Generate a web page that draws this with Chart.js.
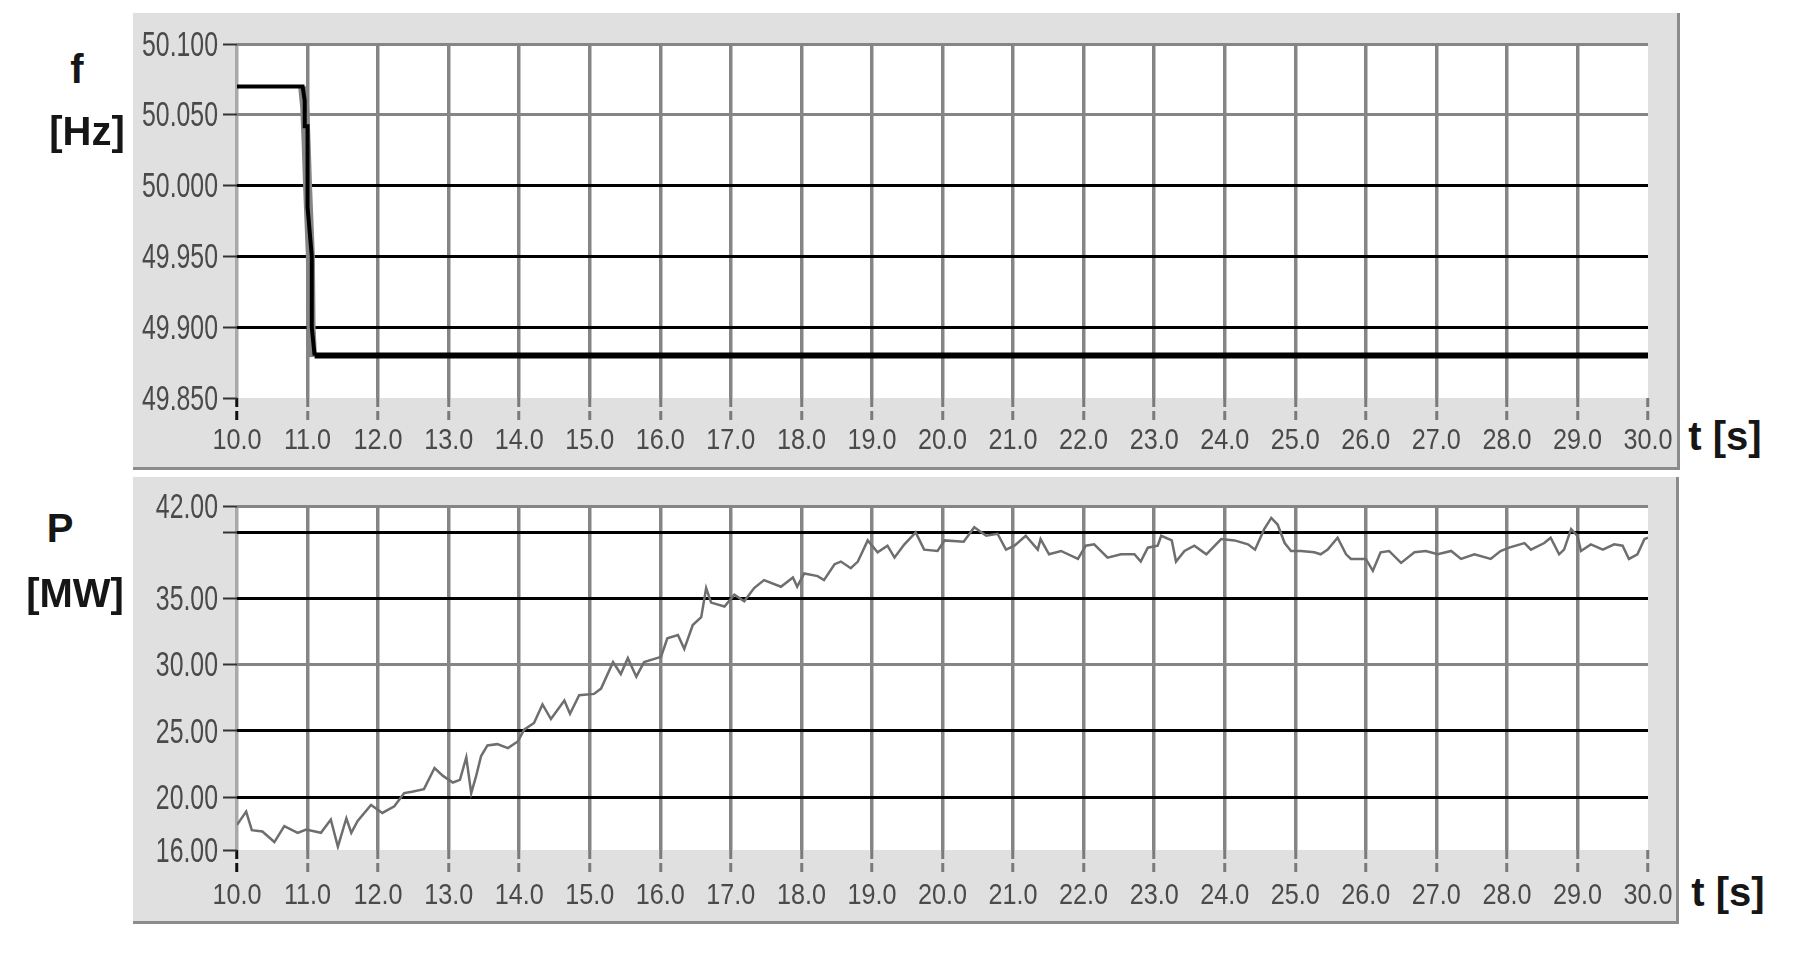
<!DOCTYPE html>
<html>
<head>
<meta charset="utf-8">
<script src="https://cdn.jsdelivr.net/npm/chart.js@4.4.0/dist/chart.umd.min.js"></script>
<style>
body { margin: 0; background: #fff; width: 1794px; height: 955px; position: relative; overflow: hidden; font-family: 'Liberation Sans', Arial, sans-serif; }
.panel { position: absolute; background: #e0e0e0; border-right: 3px solid #8c8c8c; border-bottom: 3px solid #8c8c8c; box-sizing: border-box; }
.panel canvas { position: absolute; left: 0; top: 0; }
.lbl { position: absolute; font-weight: bold; font-size: 40px; color: #161616; line-height: 40px; text-align: center; white-space: nowrap; }
</style>
</head>
<body>
<div class="panel" style="left:133px;top:13px;width:1547px;height:457px"><canvas id="chartF" width="1544" height="454"></canvas></div>
<div class="panel" style="left:133px;top:477px;width:1546px;height:447px"><canvas id="chartP" width="1543" height="444"></canvas></div>

<div class="lbl" style="left:57px;top:49px;width:40px">f</div>
<div class="lbl" style="left:27px;top:111px;width:120px">[Hz]</div>
<div class="lbl" style="left:40px;top:508px;width:40px">P</div>
<div class="lbl" style="left:15px;top:573px;width:120px">[MW]</div>
<div class="lbl" style="left:1684px;top:416px;width:82px">t [s]</div>
<div class="lbl" style="left:1687px;top:872px;width:82px">t [s]</div>

<script>
// time axis
const tTicks = [10, 11, 12, 13, 14, 15, 16, 17, 18, 19, 20, 21, 22, 23, 24, 25, 26, 27, 28, 29, 30];
const tTickLabels = ['10.0', '11.0', '12.0', '13.0', '14.0', '15.0', '16.0', '17.0', '18.0', '19.0', '20.0',
  '21.0', '22.0', '23.0', '24.0', '25.0', '26.0', '27.0', '28.0', '29.0', '30.0'];

// frequency f [Hz]
const fTicks = [49.85, 49.9, 49.95, 50.0, 50.05, 50.1];
const fTickLabels = ['49.850', '49.900', '49.950', '50.000', '50.050', '50.100'];
const fTime  = [10.0, 10.93, 10.96, 10.96, 11.0, 11.0, 11.06, 11.06, 11.1, 30.0];
const fValue = [50.070, 50.070, 50.060, 50.042, 50.042, 49.985, 49.950, 49.900, 49.880, 49.880];
// grey envelope of the transient
const fEnvTime  = [10.93, 10.96, 10.98, 11.0, 11.04, 11.05, 11.07];
const fEnvValue = [50.070, 50.055, 50.030, 50.000, 49.950, 49.900, 49.879];

// power P [MW]
const pTicks = [16, 20, 25, 30, 35, 40, 42];
const pTickLabels = ['16.00', '20.00', '25.00', '30.00', '35.00', '', '42.00'];
const pTime = [10.00, 10.13, 10.21, 10.36, 10.53, 10.67, 10.86, 10.98, 11.19, 11.33, 11.43, 11.55, 11.62, 11.71, 11.90,
  12.06, 12.23, 12.37, 12.48, 12.65, 12.80, 12.92, 13.06, 13.16, 13.25, 13.32, 13.39, 13.46, 13.55, 13.69, 13.84, 13.98,
  14.07, 14.21, 14.33, 14.45, 14.64, 14.72, 14.85, 15.06, 15.16, 15.33, 15.44, 15.54, 15.66, 15.77, 16.01, 16.10, 16.25,
  16.34, 16.46, 16.58, 16.65, 16.72, 16.91, 17.05, 17.19, 17.33, 17.47, 17.71, 17.88, 17.94, 18.04, 18.23, 18.32, 18.47,
  18.56, 18.70, 18.80, 18.94, 19.08, 19.22, 19.32, 19.46, 19.62, 19.74, 19.93, 20.03, 20.30, 20.45, 20.62, 20.78, 20.90,
  21.02, 21.18, 21.35, 21.39, 21.51, 21.68, 21.92, 22.03, 22.15, 22.34, 22.53, 22.72, 22.81, 22.91, 23.05, 23.10, 23.25,
  23.31, 23.43, 23.57, 23.74, 23.95, 24.14, 24.33, 24.43, 24.56, 24.66, 24.75, 24.85, 24.94, 25.08, 25.27, 25.36, 25.46,
  25.60, 25.72, 25.79, 26.00, 26.10, 26.21, 26.33, 26.50, 26.69, 26.85, 27.02, 27.21, 27.35, 27.54, 27.77, 27.91, 28.03,
  28.25, 28.34, 28.53, 28.62, 28.74, 28.81, 28.91, 29.00, 29.05, 29.19, 29.36, 29.52, 29.64, 29.73, 29.85, 29.95, 30.00];
const pValue = [17.9, 18.9, 17.5, 17.4, 16.6, 17.8, 17.3, 17.55, 17.3, 18.3, 16.25, 18.4, 17.3, 18.2, 19.4,
  18.8, 19.3, 20.3, 20.4, 20.6, 22.2, 21.6, 21.1, 21.3, 23.0, 20.3, 21.6, 23.1, 23.9, 24.0, 23.7, 24.2,
  25.1, 25.6, 27.0, 25.9, 27.3, 26.3, 27.7, 27.8, 28.2, 30.2, 29.3, 30.5, 29.1, 30.2, 30.6, 32.0, 32.25,
  31.2, 33.0, 33.6, 35.8, 34.7, 34.4, 35.3, 34.8, 35.8, 36.4, 35.9, 36.6, 35.9, 36.9, 36.7, 36.4, 37.6,
  37.8, 37.3, 37.8, 39.4, 38.5, 39.0, 38.1, 39.1, 40.0, 38.7, 38.6, 39.4, 39.3, 40.4, 39.75, 39.9, 38.7,
  39.0, 39.75, 38.7, 39.5, 38.35, 38.6, 38.0, 39.0, 39.1, 38.1, 38.35, 38.35, 37.8, 38.85, 39.0, 39.75, 39.4,
  37.8, 38.6, 39.0, 38.35, 39.5, 39.4, 39.1, 38.7, 40.25, 41.1, 40.6, 39.2, 38.6, 38.6, 38.5, 38.35, 38.7,
  39.6, 38.35, 38.0, 38.0, 37.1, 38.5, 38.6, 37.7, 38.5, 38.6, 38.35, 38.6, 38.0, 38.35, 38.0, 38.6, 38.85,
  39.2, 38.7, 39.2, 39.6, 38.35, 38.7, 40.25, 39.75, 38.6, 39.1, 38.7, 39.1, 39.0, 38.0, 38.35, 39.5, 39.6];

const labelColor = '#4a4a4a';

const whitePlot = {
  id: 'whitePlot',
  beforeDraw(chart) {
    const a = chart.chartArea, c = chart.ctx;
    c.save();
    c.fillStyle = '#ffffff';
    c.fillRect(a.left, a.top, a.right - a.left, a.bottom - a.top);
    c.restore();
  }
};

// the original uses a very narrow bitmap font, so tick labels are drawn squeezed
const narrowLabels = {
  id: 'narrowLabels',
  afterDraw(chart, args, opts) {
    const c = chart.ctx, a = chart.chartArea;
    const xs = chart.scales.x, ys = chart.scales.y;
    c.save();
    c.fillStyle = labelColor;
    c.textBaseline = 'middle';
    c.font = '30px "Liberation Sans", Arial, sans-serif';
    c.textAlign = 'center';
    tTicks.forEach((v, i) => {
      c.save();
      c.translate(xs.getPixelForValue(v), a.bottom + opts.xOffset);
      c.scale(0.84, 1);
      c.fillText(tTickLabels[i], 0, 0);
      c.restore();
    });
    c.font = '35px "Liberation Sans", Arial, sans-serif';
    c.textAlign = 'right';
    opts.yTicks.forEach((v, i) => {
      c.save();
      c.translate(a.left - 19, ys.getPixelForValue(v) + 2);
      c.scale(0.71, 1);
      c.fillText(opts.yLabels[i], 0, 0);
      c.restore();
    });
    c.restore();
  }
};

function pts(xs, ys) {
  return xs.map((x, i) => ({ x: x, y: ys[i] }));
}

function timeAxis(axisHeight) {
  return {
    type: 'linear', min: 10, max: 30,
    afterBuildTicks: s => { s.ticks = tTicks.map(v => ({ value: v })); },
    afterFit: s => { s.height = axisHeight; },
    ticks: { display: false },
    grid: {
      color: ctx => ctx.tick.value === 10 ? '#a9a9a9' : (ctx.tick.value === 30 ? 'rgba(0,0,0,0)' : '#858585'),
      lineWidth: 3.5,
      tickLength: 22,
      tickColor: ctx => ctx.tick.value === 10 ? '#111' : '#7a7a7a',
      tickWidth: 3,
      tickBorderDash: [9, 4]
    },
    border: { display: false }
  };
}

function valueAxis(min, max, ticks, greyValues, blankValue) {
  return {
    type: 'linear', min: min, max: max,
    afterBuildTicks: s => { s.ticks = ticks.map(v => ({ value: v })); },
    afterFit: s => { s.width = 104; },
    ticks: { display: false },
    grid: {
      color: ctx => {
        const v = ctx.tick.value;
        if (v === blankValue) return 'rgba(0,0,0,0)';
        return greyValues.includes(v) ? '#858585' : '#000000';
      },
      lineWidth: 3,
      tickLength: 14,
      tickColor: '#333',
      tickWidth: 2
    },
    border: { display: false }
  };
}

new Chart(document.getElementById('chartF'), {
  type: 'line',
  data: {
    datasets: [
      {
        data: pts(fTime, fValue),
        borderColor: '#000',
        borderWidth: 4,
        segment: { borderWidth: ctx => ctx.p0.parsed.x >= 11.09 ? 6 : 4 },
        pointRadius: 0,
        tension: 0
      },
      {
        data: pts(fEnvTime, fEnvValue),
        borderColor: '#858585',
        borderWidth: 9,
        pointRadius: 0,
        tension: 0
      }
    ]
  },
  options: {
    responsive: false,
    animation: false,
    layout: { padding: { left: 0, top: 31, right: 29, bottom: 0 } },
    plugins: {
      legend: { display: false },
      tooltip: { enabled: false },
      narrowLabels: { xOffset: 43, yTicks: fTicks, yLabels: fTickLabels }
    },
    scales: {
      x: timeAxis(69),
      y: valueAxis(49.85, 50.1, fTicks, [50.05, 50.1], 49.85)
    }
  },
  plugins: [whitePlot, narrowLabels]
});

new Chart(document.getElementById('chartP'), {
  type: 'line',
  data: {
    datasets: [{
      data: pts(pTime, pValue),
      borderColor: '#6e6e6e',
      borderWidth: 2.5,
      pointRadius: 0,
      tension: 0
    }]
  },
  options: {
    responsive: false,
    animation: false,
    layout: { padding: { left: 0, top: 29, right: 28, bottom: 0 } },
    plugins: {
      legend: { display: false },
      tooltip: { enabled: false },
      narrowLabels: { xOffset: 46, yTicks: pTicks, yLabels: pTickLabels }
    },
    scales: {
      x: timeAxis(71),
      y: valueAxis(16, 42, pTicks, [30, 42], 16)
    }
  },
  plugins: [whitePlot, narrowLabels]
});
</script>
</body>
</html>
